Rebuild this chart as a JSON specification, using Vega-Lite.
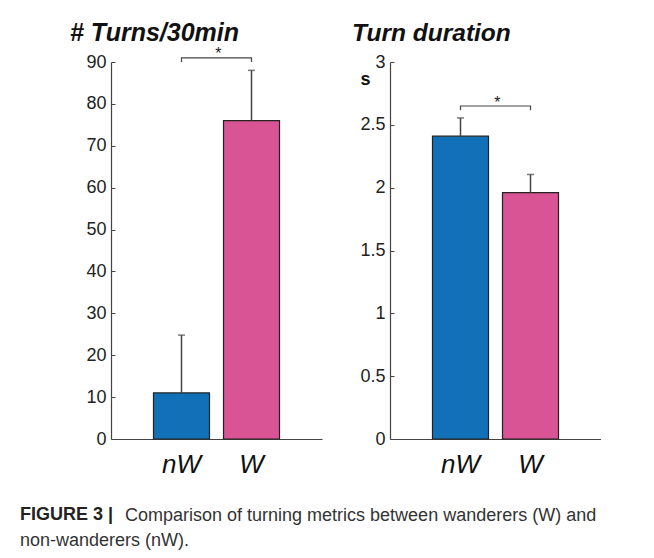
{
  "$schema": "https://vega.github.io/schema/vega-lite/v6.json",
  "background": "white",
  "padding": {"left": 20, "top": 20, "right": 0, "bottom": 0},
  "config": {
    "font": "Liberation Sans",
    "view": {"stroke": null},
    "axis": {"domainColor": "#444", "tickColor": "#444", "labelColor": "#222", "grid": false, "labelFont": "Liberation Sans", "labelFontSize": 18, "domainWidth": 1.2}
  },
  "datasets": {
    "turns": [
      {"group": "nW", "value": 11, "upper": 24.8},
      {"group": "W", "value": 76, "upper": 88}
    ],
    "duration": [
      {"group": "nW", "value": 2.41, "upper": 2.555},
      {"group": "W", "value": 1.96, "upper": 2.105}
    ],
    "bracketTurns": [
      {"group": "nW", "y": 90, "o": 1},
      {"group": "nW", "y": 91, "o": 2},
      {"group": "W", "y": 91, "o": 3},
      {"group": "W", "y": 90, "o": 4}
    ],
    "starTurns": [{"group": "W", "y": 90.7, "label": "*"}],
    "bracketDuration": [
      {"group": "nW", "y": 2.617, "o": 1},
      {"group": "nW", "y": 2.65, "o": 2},
      {"group": "W", "y": 2.65, "o": 3},
      {"group": "W", "y": 2.617, "o": 4}
    ],
    "starDuration": [{"group": "W", "y": 2.637, "label": "*"}]
  },
  "title": {
    "text": "Comparison of turning metrics between wanderers (W) and",
    "orient": "bottom", "anchor": "start", "frame": "group",
    "fontSize": 18, "fontWeight": "normal", "color": "#333",
    "dx": 14, "dy": -43, "offset": 0
  },
  "vconcat": [
    {
      "title": {
        "text": "FIGURE 3 |",
        "subtitle": "non-wanderers (nW).",
        "orient": "bottom", "anchor": "start", "frame": "group",
        "fontSize": 18, "fontWeight": "bold", "color": "#222",
        "subtitleFontSize": 18, "subtitleColor": "#333", "subtitleFont": "Liberation Sans",
        "subtitlePadding": 8,
        "dx": -91, "offset": 29
      },
      "spacing": 30,
      "hconcat": [
        {
          "width": 211, "height": 377,
          "title": {"text": "# Turns/30min", "anchor": "start", "frame": "group", "fontSize": 25, "fontWeight": "bold", "fontStyle": "italic", "color": "#111", "offset": 0, "dx": -41},
          "layer": [
            {
              "data": {"name": "turns"},
              "mark": {"type": "bar", "stroke": "#222", "strokeWidth": 1.2},
              "encoding": {
                "x": {"field": "group", "type": "nominal", "sort": ["nW", "W"],
                      "scale": {"paddingInner": 0.2, "paddingOuter": 0.607},
                      "axis": {"title": null, "ticks": false, "labelAngle": 0, "labelFontSize": 26, "labelFontStyle": "italic", "labelColor": "#111", "labelPadding": 33, "labelBaseline": "alphabetic"}},
                "y": {"field": "value", "type": "quantitative",
                      "scale": {"domain": [0, 90], "nice": false},
                      "axis": {"title": null, "values": [0, 10, 20, 30, 40, 50, 60, 70, 80, 90], "tickSize": -4, "labelPadding": 9}},
                "color": {"field": "group", "type": "nominal", "scale": {"domain": ["nW", "W"], "range": ["#1170b8", "#d95494"]}, "legend": null}
              }
            },
            {
              "data": {"name": "turns"},
              "mark": {"type": "rule", "color": "#444", "strokeWidth": 1.5},
              "encoding": {
                "x": {"field": "group", "type": "nominal", "sort": ["nW", "W"]},
                "y": {"field": "value", "type": "quantitative"},
                "y2": {"field": "upper"}
              }
            },
            {
              "data": {"name": "turns"},
              "mark": {"type": "tick", "color": "#444", "thickness": 1.5, "size": 7},
              "encoding": {
                "x": {"field": "group", "type": "nominal", "sort": ["nW", "W"]},
                "y": {"field": "upper", "type": "quantitative"}
              }
            },
            {
              "data": {"name": "bracketTurns"},
              "mark": {"type": "line", "color": "#444", "strokeWidth": 1.2},
              "encoding": {
                "x": {"field": "group", "type": "nominal", "sort": ["nW", "W"]},
                "y": {"field": "y", "type": "quantitative"},
                "order": {"field": "o"}
              }
            },
            {
              "data": {"name": "starTurns"},
              "mark": {"type": "text", "fontSize": 16, "color": "#222", "baseline": "alphabetic", "align": "center"},
              "encoding": {
                "x": {"field": "group", "type": "nominal", "sort": ["nW", "W"], "bandPosition": -0.09},
                "y": {"field": "y", "type": "quantitative"},
                "text": {"field": "label"}
              }
            }
          ]
        },
        {
          "width": 211, "height": 377,
          "title": {"text": "Turn duration", "anchor": "start", "frame": "group", "fontSize": 24.5, "fontWeight": "bold", "fontStyle": "italic", "color": "#111", "offset": 7, "dx": -38},
          "layer": [
            {
              "data": {"name": "duration"},
              "mark": {"type": "bar", "stroke": "#222", "strokeWidth": 1.2},
              "encoding": {
                "x": {"field": "group", "type": "nominal", "sort": ["nW", "W"],
                      "scale": {"paddingInner": 0.2, "paddingOuter": 0.607},
                      "axis": {"title": null, "ticks": false, "labelAngle": 0, "labelFontSize": 26, "labelFontStyle": "italic", "labelColor": "#111", "labelPadding": 33, "labelBaseline": "alphabetic"}},
                "y": {"field": "value", "type": "quantitative",
                      "scale": {"domain": [0, 3], "nice": false},
                      "axis": {"title": "s", "titleAngle": 0, "titleFontSize": 18, "titleFontWeight": "bold", "titleColor": "#111", "titleX": -25, "titleY": 22, "titleAlign": "center", "titleBaseline": "alphabetic",
                               "values": [0, 0.5, 1, 1.5, 2, 2.5, 3], "format": "~g", "tickSize": -4, "labelPadding": 9}},
                "color": {"field": "group", "type": "nominal", "scale": {"domain": ["nW", "W"], "range": ["#1170b8", "#d95494"]}, "legend": null}
              }
            },
            {
              "data": {"name": "duration"},
              "mark": {"type": "rule", "color": "#444", "strokeWidth": 1.5},
              "encoding": {
                "x": {"field": "group", "type": "nominal", "sort": ["nW", "W"]},
                "y": {"field": "value", "type": "quantitative"},
                "y2": {"field": "upper"}
              }
            },
            {
              "data": {"name": "duration"},
              "mark": {"type": "tick", "color": "#444", "thickness": 1.5, "size": 7},
              "encoding": {
                "x": {"field": "group", "type": "nominal", "sort": ["nW", "W"]},
                "y": {"field": "upper", "type": "quantitative"}
              }
            },
            {
              "data": {"name": "bracketDuration"},
              "mark": {"type": "line", "color": "#444", "strokeWidth": 1.2},
              "encoding": {
                "x": {"field": "group", "type": "nominal", "sort": ["nW", "W"]},
                "y": {"field": "y", "type": "quantitative"},
                "order": {"field": "o"}
              }
            },
            {
              "data": {"name": "starDuration"},
              "mark": {"type": "text", "fontSize": 16, "color": "#222", "baseline": "alphabetic", "align": "center"},
              "encoding": {
                "x": {"field": "group", "type": "nominal", "sort": ["nW", "W"], "bandPosition": -0.09},
                "y": {"field": "y", "type": "quantitative"},
                "text": {"field": "label"}
              }
            }
          ]
        }
      ]
    }
  ]
}
